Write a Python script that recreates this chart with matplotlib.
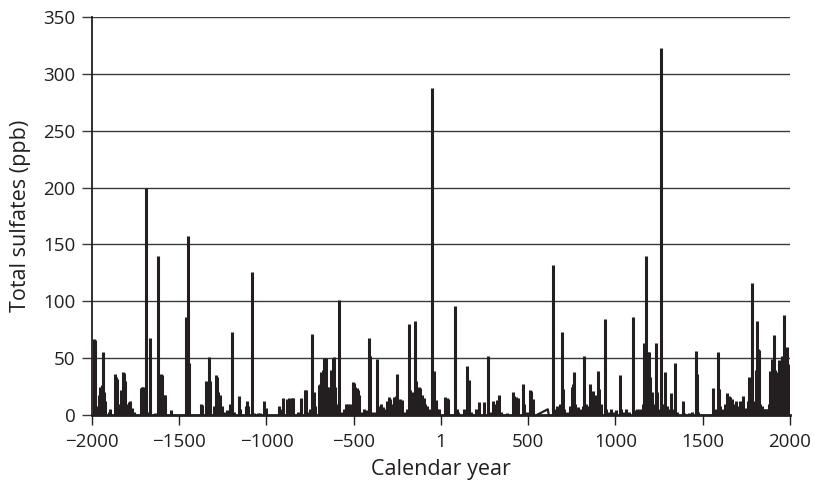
import matplotlib.pyplot as plt

plt.rcParams['font.family'] = ['Open Sans', 'DejaVu Sans']

# spike years and peak sulfate values (ppb)
years = [-1987, -1984, -1980, -1975, -1960, -1952, -1945, -1938, -1932, -1925,
         -1905, -1895, -1870, -1862, -1855, -1848, -1835, -1825, -1818, -1810,
         -1800, -1790, -1780, -1770, -1760, -1720, -1712, -1705, -1690, -1680,
         -1665, -1640, -1622, -1605, -1598, -1590, -1582, -1545, -1462, -1452,
         -1442, -1375, -1368, -1345, -1330, -1325, -1300, -1290, -1283, -1275,
         -1268, -1255, -1240, -1225, -1210, -1200, -1185, -1156, -1150, -1120,
         -1113, -1105, -1081, -1070, -1050, -1035, -1014, -1005, -927, -915,
         -904, -880, -870, -862, -852, -846, -820, -803, -780, -773,
         -760, -748, -737, -730, -722, -700, -692, -686, -678, -670,
         -661, -655, -648, -640, -630, -620, -612, -605, -595, -583,
         -575, -555, -545, -530, -520, -505, -498, -490, -484, -478,
         -470, -460, -440, -425, -411, -405, -395, -380, -365, -350,
         -342, -330, -320, -310, -300, -290, -282, -270, -260, -250,
         -243, -235, -225, -210, -195, -182, -175, -168, -149, -142,
         -135, -125, -118, -110, -100, -92, -80, -70, -53, -40,
         -30, -20, -10, 25, 33, 40, 80, 90, 100, 130,
         151, 160, 170, 200, 220, 245, 268, 280, 300, 310,
         320, 333, 345, 380, 410, 418, 430, 440, 472, 478,
         495, 510, 517, 530, 640, 648, 665, 680, 692, 697,
         705, 720, 740, 750, 755, 764, 770, 785, 800, 815,
         822, 830, 845, 854, 860, 870, 880, 890, 898, 905,
         915, 940, 948, 960, 975, 990, 1005, 1026, 1032, 1050,
         1060, 1075, 1102, 1110, 1125, 1140, 1155, 1163, 1175, 1182,
         1188, 1194, 1200, 1210, 1220, 1231, 1240, 1250, 1259, 1268,
         1280, 1285, 1295, 1308, 1320, 1330, 1343, 1355, 1385, 1395,
         1420, 1440, 1460, 1466, 1475, 1500, 1540, 1561, 1570, 1589,
         1594, 1600, 1615, 1630, 1641, 1648, 1655, 1665, 1670, 1680,
         1688, 1700, 1715, 1729, 1740, 1750, 1758, 1765, 1772, 1780,
         1786, 1795, 1805, 1813, 1819, 1824, 1830, 1840, 1850, 1858,
         1865, 1872, 1880, 1886, 1890, 1897, 1903, 1910, 1916, 1922,
         1928, 1934, 1939, 1945, 1952, 1958, 1963, 1968, 1973, 1977,
         1981, 1985, 1990, 1995]
sulfates = [67, 66, 15, 8, 18, 25, 26, 55, 20, 12,
            3, 5, 36, 33, 32, 10, 22, 38, 37, 30,
            10, 11, 12, 6, 3, 24, 25, 25, 200, 3,
            68, 2, 140, 36, 35, 18, 18, 4, 86, 157,
            46, 10, 9, 30, 51, 30, 8, 35, 33, 20,
            18, 8, 3, 4, 10, 73, 3, 17, 5, 8,
            12, 8, 126, 2, 2, 2, 12, 6, 8, 5,
            15, 14, 15, 14, 15, 15, 3, 15, 22, 22,
            3, 5, 71, 20, 8, 26, 27, 38, 40, 50,
            50, 25, 25, 10, 40, 50, 51, 25, 10, 101,
            3, 5, 10, 10, 10, 29, 28, 25, 24, 22,
            18, 3, 5, 4, 68, 52, 3, 3, 49, 8,
            10, 7, 5, 12, 16, 14, 10, 16, 17, 36,
            12, 14, 13, 3, 5, 80, 22, 20, 83, 30,
            21, 25, 24, 18, 15, 10, 8, 5, 288, 39,
            13, 5, 5, 16, 15, 14, 96, 5, 3, 5,
            43, 31, 3, 5, 11, 11, 52, 3, 12, 10,
            13, 18, 3, 2, 20, 17, 16, 15, 27, 10,
            3, 22, 21, 14, 132, 5, 8, 10, 73, 23,
            5, 3, 8, 25, 27, 38, 10, 7, 5, 8,
            52, 10, 8, 27, 20, 21, 15, 18, 39, 23,
            10, 84, 5, 3, 5, 3, 4, 35, 5, 3,
            5, 3, 86, 4, 5, 5, 10, 63, 140, 30,
            55, 55, 33, 20, 10, 63, 20, 5, 323, 10,
            5, 38, 8, 5, 19, 5, 46, 3, 12, 2,
            2, 3, 56, 36, 3, 1, 1, 24, 5, 55,
            23, 8, 5, 10, 19, 17, 16, 14, 5, 10,
            12, 8, 12, 17, 5, 6, 12, 33, 30, 116,
            12, 5, 40, 83, 58, 57, 10, 8, 5, 5,
            5, 5, 10, 39, 20, 49, 35, 70, 40, 30,
            25, 38, 48, 40, 52, 42, 35, 88, 21, 25,
            60, 30, 15, 45]

# short linear stretch where the record has a gap
gap_years = [548, 612, 618]
gap_values = [0, 5, 0]

ink = '#231f20'

fig = plt.figure(figsize=(8.14, 4.82), dpi=100)
ax = fig.add_axes([0.113, 0.139, 0.8575, 0.8257])

ax.vlines(years, 0, sulfates, color=ink, lw=2.2, zorder=3)
ax.plot(gap_years, gap_values, color=ink, lw=1.6, zorder=3)

ax.set_xlim(-2000, 2000)
ax.set_ylim(0, 350)

ax.set_xticks([-2000, -1500, -1000, -500, 0, 500, 1000, 1500, 2000])
ax.set_xticklabels(['\u22122000', '\u22121500', '\u22121000', '\u2212500', '1',
                    '500', '1000', '1500', '2000'])
ax.set_yticks(range(0, 351, 50))

ax.yaxis.grid(True, color='#3a3a3a', lw=1.0)
ax.set_axisbelow(True)

for s in ['top', 'right']:
    ax.spines[s].set_visible(False)
ax.spines['left'].set_linewidth(1.3)
ax.spines['left'].set_color(ink)
ax.spines['bottom'].set_linewidth(2.0)
ax.spines['bottom'].set_color(ink)
ax.spines['bottom'].set_zorder(4)

ax.tick_params(axis='y', length=7, width=1.0, color='#3a3a3a', labelsize=13.5,
               labelcolor=ink, pad=5)
ax.tick_params(axis='x', length=7, width=1.0, color=ink, labelsize=13.5,
               labelcolor=ink, pad=6)

ax.set_xlabel('Calendar year', fontsize=15.5, color=ink, labelpad=6)
ax.set_ylabel('Total sulfates (ppb)', fontsize=15.5, color=ink, labelpad=9)

fig.savefig('out.png', dpi=100)
